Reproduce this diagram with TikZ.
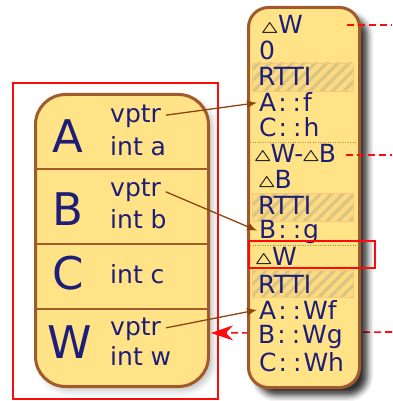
\documentclass[tikz,border=0pt]{standalone}
\usepackage{fontspec}
\setmainfont{DejaVu Sans}
\usetikzlibrary{arrows.meta,shadows.blur,patterns.meta}

\definecolor{boxfill}{HTML}{FFE386}
\definecolor{boxline}{HTML}{A05A2C}
\definecolor{ink}{HTML}{1E1E78}
\definecolor{hatchfill}{HTML}{FCDA84}
\definecolor{hatchline}{HTML}{D9C480}
\definecolor{hatchedge}{HTML}{F7C97A}
\definecolor{ptrcol}{HTML}{8B4513}
\definecolor{dotcol}{HTML}{B8863B}
\definecolor{hilite}{HTML}{FF0A0A}

% small open triangle used as the "offset" sign
\newcommand\tri{\tikz[baseline={(0pt,-1.5pt)},x=1pt,y=1pt]
  \draw[line width=1pt,line join=round,black!85] (0,0)--(14,0)--(7,10)--cycle;}
% scope operator with a little air between the colons
\newcommand\sepcolons{\kern2pt:\kern6pt:\kern2pt}

\begin{document}
\begin{tikzpicture}[x=1pt,y=-1pt,
  font=\fontsize{25}{29}\selectfont,
  txt/.style={anchor=base west,inner sep=0pt,text=ink},
  big/.style={anchor=base,inner sep=0pt,text=ink,font=\fontsize{45}{45}\selectfont},
  objbox/.style={draw=boxline,fill=boxfill,line width=3pt,rounded corners=30pt,
    inner sep=0pt,anchor=north west},
  tblbox/.style={draw=boxline,fill=boxfill,line width=3pt,rounded corners=20pt,
    inner sep=0pt,anchor=north west},
  divider/.style={draw=boxline,line width=1.6pt},
  slotsep/.style={draw=dotcol,line width=1pt,dash pattern=on 1pt off 1.5pt},
  band/.style={draw=hatchedge,line width=0.8pt,preaction={fill=hatchfill},
    pattern={Lines[angle=45,distance=8pt,line width=3pt]},pattern color=hatchline},
  ptr/.style={draw=ptrcol,line width=1.3pt,-{Latex[length=10pt,width=8pt]},
    shorten <=5pt,shorten >=2pt},
  link/.style={draw=hilite,line width=1.6pt,dash pattern=on 7pt off 4pt},
  frame/.style={draw=hilite,line width=2pt},
]
\useasboundingbox (0,0) rectangle (392,401);

% ---- object layout ----
\node[objbox,minimum width=173pt,minimum height=292pt,
  blur shadow={shadow xshift=4pt,shadow yshift=-4pt,shadow blur radius=6pt,shadow opacity=25}]
  (obj) at (34,93) {};
\draw[divider] (34,169) -- (207,169);
\draw[divider] (34,244) -- (207,244);
\draw[divider] (34,309) -- (207,309);

\node[big] (lA) at (68,152) {A};
\node[txt] (vpA) at (110,122) {vptr};
\node[txt] (ia) at (110,155) {int a};

\node[big] (lB) at (68,225) {B};
\node[txt] (vpB) at (110,196) {vptr};
\node[txt] (ib) at (110,228) {int b};

\node[big] (lC) at (68,289) {C};
\node[txt] (ic) at (110,283) {int c};

\node[big] (lW) at (70,358) {W};
\node[txt] (vpW) at (110,335) {vptr};
\node[txt] (iw) at (110,365) {int w};

\draw[frame] (13,83) rectangle (218,399);

% ---- dashed link into the W part (runs behind the table) ----
\coordinate (linkC) at (392,332);
\coordinate (wEdge) at (211,333);
\draw[link,-{Stealth[length=22pt,width=15pt,inset=7pt]}] (linkC) -- (wEdge);

% ---- virtual table ----
\node[tblbox,minimum width=111pt,minimum height=380pt,
  blur shadow={shadow xshift=8pt,shadow yshift=-8pt,shadow blur radius=6pt,shadow opacity=80}]
  (tbl) at (247,6) {};

\draw[band] (252,63) rectangle (353,91);
\draw[band] (252,193) rectangle (353,221);
\draw[band] (252,270) rectangle (353,297);
\draw[slotsep] (250,142) -- (356,142);
\draw[slotsep] (250,245) -- (356,245);

\node[txt] (tW1) at (262,34) {\tri\kern1pt W};
\node[txt] (z0) at (259,60) {0};
\node[txt] (rt1) at (258,86) {RTTI};
\node[txt] (Af) at (259,112) {A\sepcolons f};
\node[txt] (Ch) at (259,136) {C\sepcolons h};

\node[txt] (tWB) at (255,162) {\tri\kern0.5pt W-\tri\kern0.5pt B};
\node[txt] (tB) at (259,188) {\tri\kern0.5pt B};
\node[txt] (rt2) at (258,214) {RTTI};
\node[txt] (Bg) at (259,238) {B\sepcolons g};

\node[txt] (tW2) at (256,265) {\tri\kern1pt W};
\node[txt] (rt3) at (258,293) {RTTI};
\node[txt] (AWf) at (259,319) {A\sepcolons Wf};
\node[txt] (BWg) at (258,343) {B\sepcolons Wg};
\node[txt] (CWh) at (259,371) {C\sepcolons Wh};

% ---- dashed links leaving the table ----
\coordinate (linkAs) at (347,25);
\coordinate (linkAe) at (392,25);
\coordinate (linkBs) at (346,155);
\coordinate (linkBe) at (392,155);
\draw[link] (linkAs) -- (linkAe);
\draw[link] (linkBs) -- (linkBe);

% ---- highlighted slot ----
\draw[frame,line width=2.5pt] (249,241) rectangle (375,268);

% ---- vptr arrows ----
\draw[ptr] (vpA.east) -- (Af.west);
\draw[ptr] (vpB.east) -- (Bg.west);
\draw[ptr] (vpW.east) -- (AWf.west);
\end{tikzpicture}
\end{document}
